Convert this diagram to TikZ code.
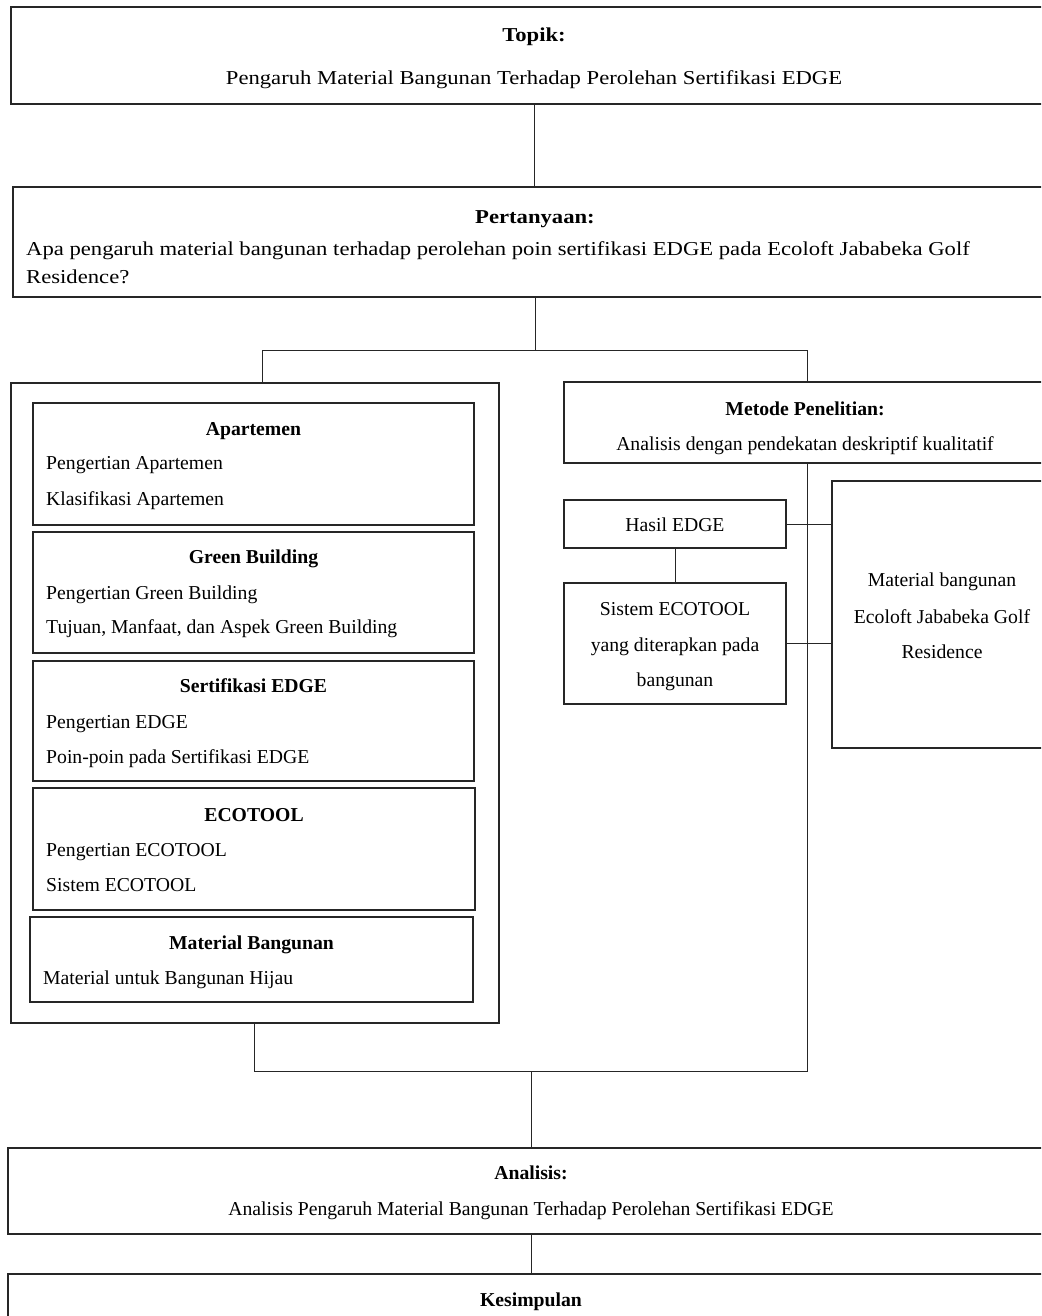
\documentclass[tikz,border=0pt]{standalone}
\usepackage{fontspec}
\usepackage{graphicx}
\setmainfont{Liberation Serif}
\newcommand\wide[1]{\scalebox{1.15}[1]{#1}}
\begin{document}
\begin{tikzpicture}[x=1pt,y=-1pt,
  box/.style={draw=black!85, line width=1.2pt, rectangle, inner sep=0pt, outer sep=0pt, anchor=north west},
  link/.style={draw=black!85, line width=1pt},
  txt/.style={inner sep=0pt, anchor=mid, yshift=-4.5pt, font=\fontsize{19.7}{24}\selectfont},
  ttl/.style={txt, font=\fontsize{19.7}{24}\selectfont\bfseries},
  lft/.style={txt, anchor=mid west}]
\useasboundingbox (0,0) rectangle (1041,1316);
\clip (0,0) rectangle (1041,1316);
\fill[white] (0,0) rectangle (1041,1316);

% boxes
\node[box, minimum width=1046pt, minimum height=97pt] (topik) at (11,7) {};
\node[box, minimum width=1044pt, minimum height=110pt] (pert) at (13,187) {};
\node[box, minimum width=488pt, minimum height=640pt] (left) at (11,383) {};
\node[box, minimum width=441pt, minimum height=122pt] (apart) at (33,403) {};
\node[box, minimum width=441pt, minimum height=121pt] (green) at (33,532) {};
\node[box, minimum width=441pt, minimum height=120pt] (sert) at (33,661) {};
\node[box, minimum width=442pt, minimum height=122pt] (eco) at (33,788) {};
\node[box, minimum width=443pt, minimum height=85pt] (matb) at (30,917) {};
\node[box, minimum width=482pt, minimum height=81pt] (metode) at (564,382) {};
\node[box, minimum width=222pt, minimum height=48pt] (hasil) at (564,500) {};
\node[box, minimum width=222pt, minimum height=121pt] (sistem) at (564,583) {};
\node[box, minimum width=220pt, minimum height=267pt] (matr) at (832,481) {};
\node[box, minimum width=1046pt, minimum height=86pt] (anal) at (8,1148) {};
\node[box, minimum width=1046pt, minimum height=80pt] (kesim) at (8,1274) {};

% texts
\node[ttl] (topikT) at (534,35) {\wide{Topik:}};
\node[txt] (topik1) at (534,78) {\wide{Pengaruh Material Bangunan Terhadap Perolehan Sertifikasi EDGE}};
\node[ttl] (pertT) at (535,217) {\wide{Pertanyaan:}};
\node[lft] (pert1) at (26,249) {\wide{Apa pengaruh material bangunan terhadap perolehan poin sertifikasi EDGE pada Ecoloft Jababeka Golf}};
\node[lft] (pert2) at (26,277) {\wide{Residence?}};

\node[ttl] (apartT) at (253.5,429) {Apartemen};
\node[lft] (apart1) at (46,463) {Pengertian Apartemen};
\node[lft] (apart2) at (46,499) {Klasifikasi Apartemen};
\node[ttl] (greenT) at (253.5,557) {Green Building};
\node[lft] (green1) at (46,593) {Pengertian Green Building};
\node[lft] (green2) at (46,627) {Tujuan, Manfaat, dan Aspek Green Building};
\node[ttl] (sertT) at (253.5,686) {Sertifikasi EDGE};
\node[lft] (sert1) at (46,722) {Pengertian EDGE};
\node[lft] (sert2) at (46,757) {Poin-poin pada Sertifikasi EDGE};
\node[ttl] (ecoT) at (254,815) {ECOTOOL};
\node[lft] (eco1) at (46,850) {Pengertian ECOTOOL};
\node[lft] (eco2) at (46,885) {Sistem ECOTOOL};
\node[ttl] (matbT) at (251.5,943) {Material Bangunan};
\node[lft] (matb1) at (43,978) {Material untuk Bangunan Hijau};

\node[ttl] (metodeT) at (805,409) {Metode Penelitian:};
\node[txt] (metode1) at (805,444) {Analisis dengan pendekatan deskriptif kualitatif};
\node[txt] (hasilT) at (675,525) {Hasil EDGE};
\node[txt] (sistem1) at (675,609) {Sistem ECOTOOL};
\node[txt] (sistem2) at (675,645) {yang diterapkan pada};
\node[txt] (sistem3) at (675,680) {bangunan};
\node[txt] (matr1) at (942,580) {Material bangunan};
\node[txt] (matr2) at (942,617) {Ecoloft Jababeka Golf};
\node[txt] (matr3) at (942,652) {Residence};

\node[ttl] (analT) at (531,1173) {Analisis:};
\node[txt] (anal1) at (531,1209) {Analisis Pengaruh Material Bangunan Terhadap Perolehan Sertifikasi EDGE};
\node[ttl] (kesimT) at (531,1300) {Kesimpulan};

% junctions
\coordinate (jt) at (535,350);
\coordinate (jl) at (262,350);
\coordinate (jr) at (807,350);
\coordinate (jbl) at (254,1071);
\coordinate (jbr) at (807,1071);
\coordinate (jbm) at (531,1071);

% connectors
\draw[link] (topik.south) -- (topik.south |- pert.north);
\draw[link] (pert.south) -- (jt);
\draw[link] (jl |- left.north) -- (jl) -- (jr) -- (jr |- metode.north);
\draw[link] (jbl |- left.south) -- (jbl) -- (jbr) -- (jr |- metode.south);
\draw[link] (jbm) -- (anal.north);
\draw[link] (anal.south) -- (kesim.north);
\draw[link] (hasil.south) -- (sistem.north);
\draw[link] (hasil.east) -- (hasil.east -| matr.west);
\draw[link] (sistem.east) -- (sistem.east -| matr.west);
\end{tikzpicture}
\end{document}
